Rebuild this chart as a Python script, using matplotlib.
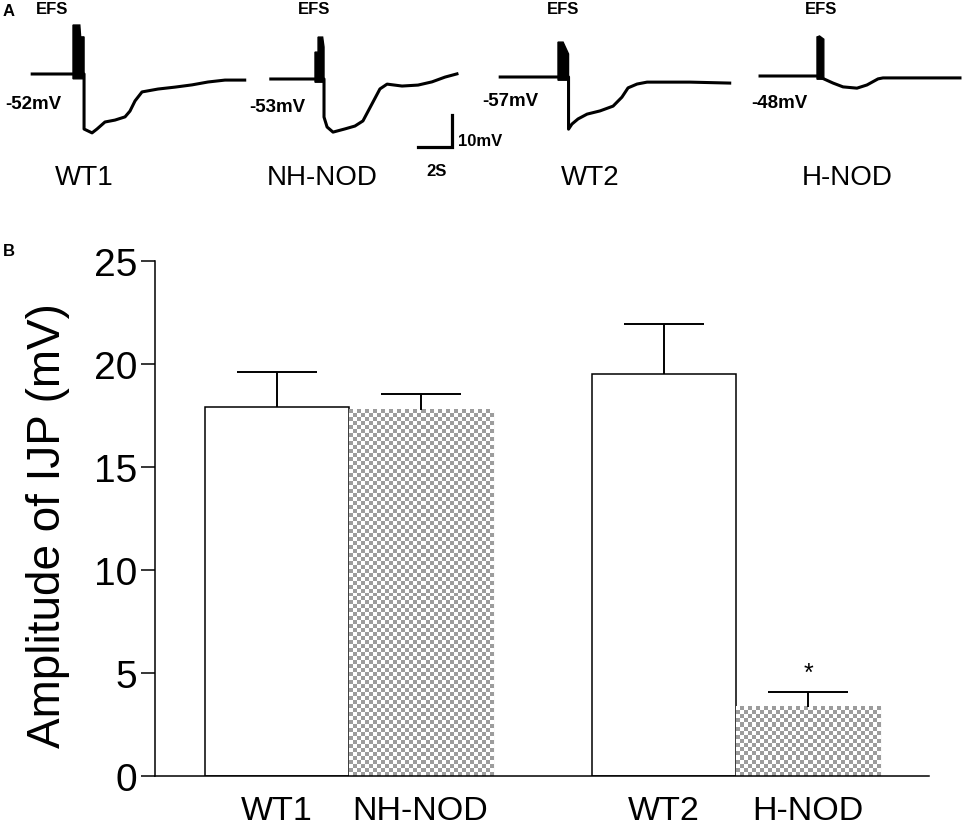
import numpy as np
import matplotlib.pyplot as plt
from matplotlib.colors import ListedColormap

plt.rcParams['font.family'] = ['Liberation Sans', 'DejaVu Sans']

# panel B data
groups = ['WT1', 'NH-NOD', 'WT2', 'H-NOD']
amplitude = [17.9, 17.77, 19.5, 3.35]
sem = [1.7, 0.77, 2.44, 0.73]
checkered = [False, True, False, True]

# panel A traces: time (s) from EFS onset, voltage (mV) from resting potential
wt1_t = [-2.4, 0.0, 0.65, 0.65, 1.12, 1.41, 1.88, 2.47, 3.06, 3.35, 3.65, 4.06, 5.0, 6.0, 7.0, 7.94, 8.94, 10.1]
wt1_v = [0, 0, 0, -17.2, -18.4, -17.2, -15.0, -14.4, -13.4, -11.6, -8.4, -5.6, -4.7, -4.1, -3.4, -2.5, -1.9, -1.9]
nh_t = [-2.6, 0.0, 0.53, 0.53, 0.71, 1.06, 1.76, 2.35, 2.82, 3.35, 3.82, 4.24, 5.12, 6.06, 6.88, 7.65, 8.35]
nh_v = [0, 0, 0, -11.9, -15.0, -16.6, -15.6, -14.7, -13.1, -7.8, -3.1, -1.6, -2.2, -1.9, -0.9, 0.6, 1.6]
wt2_t = [-3.4, 0.0, 0.62, 0.62, 0.82, 1.18, 1.71, 2.47, 3.24, 3.76, 4.12, 4.65, 5.24, 7.76, 10.1]
wt2_v = [0, 0, 0, -16.3, -14.7, -13.1, -11.6, -10.6, -9.1, -6.3, -3.4, -2.2, -1.6, -1.6, -1.9]
hnod_t = [-3.35, 0.0, 0.4, 0.94, 1.53, 2.35, 2.94, 3.59, 3.88, 8.41]
hnod_v = [0, 0, -0.9, -2.2, -3.4, -3.8, -2.8, -0.9, -0.6, -0.6]

# EFS stimulus artifacts (outline, s / mV)
wt1_efs_t = [0, 0, 0.4, 0.45, 0.65, 0.65]
wt1_efs_v = [-1.5, 15.3, 15.3, 11.6, 11.6, -1.5]
nh_efs_t = [0, 0, 0.18, 0.18, 0.45, 0.53, 0.53]
nh_efs_v = [-1, 8.4, 8.4, 13.1, 13.1, 10, -1]
wt2_efs_t = [0, 0, 0.3, 0.62, 0.62]
wt2_efs_v = [-1, 10.9, 10.9, 7.2, -1]
hnod_efs_t = [0, 0, 0.15, 0.4, 0.4]
hnod_efs_v = [-1, 12.2, 12.5, 11.5, -1]

resting = ['-52mV', '-53mV', '-57mV', '-48mV']

W, H = 963, 829
fig = plt.figure(figsize=(W / 100, H / 100), dpi=100)


def fx(px):
    return px / W


def fy(py):
    return 1 - py / H


# ---------- panel A ----------
px_s, px_mv, base_py = 17.0, 3.2, 77
ax_a = fig.add_axes([0, fy(200), 1, 200 / H])
ax_a.set_xlim(0, W / px_s)
ax_a.set_ylim(-(200 - base_py) / px_mv, base_py / px_mv)
ax_a.axis('off')

traces = [(wt1_t, wt1_v, wt1_efs_t, wt1_efs_v), (nh_t, nh_v, nh_efs_t, nh_efs_v),
          (wt2_t, wt2_v, wt2_efs_t, wt2_efs_v), (hnod_t, hnod_v, hnod_efs_t, hnod_efs_v)]
onset_px = [73, 315, 558, 817]
base_px = [75, 80, 78, 77]
for (t, v, et, ev), ox, oy in zip(traces, onset_px, base_px):
    t0 = ox / px_s
    v0 = (base_py - oy) / px_mv
    ax_a.plot(np.array(t) + t0, np.array(v) + v0, color='black', lw=2.2,
              solid_joinstyle='round')
    ax_a.fill(np.array(et) + t0, np.array(ev) + v0, color='black', lw=1)

# scale bar 10 mV / 2 s
sx, sy = 452 / px_s, (base_py - 148) / px_mv
ax_a.plot([sx - 2, sx, sx], [sy, sy, sy + 10], color='black', lw=2.3,
          solid_joinstyle='miter')

fig.text(fx(9), fy(12), 'A', fontsize=12, fontweight='bold', ha='center', va='center')
for x in [52, 314, 563, 821]:
    fig.text(fx(x), fy(10), 'EFS', fontsize=12, fontweight='bold', ha='center', va='center')
for lab, (x, y) in zip(resting, [(33, 105), (277, 108), (510, 102), (779, 104)]):
    fig.text(fx(x), fy(y), lab, fontsize=13.5, fontweight='bold', ha='center', va='center')
for lab, x in zip(groups, [84, 322, 590, 847]):
    fig.text(fx(x), fy(178), lab, fontsize=20, ha='center', va='center')
fig.text(fx(458), fy(142), '10mV', fontsize=12, fontweight='bold', ha='left', va='center')
fig.text(fx(437), fy(172), '2S', fontsize=12, fontweight='bold', ha='center', va='center')

# ---------- panel B ----------
xpos = [0, 1, 2.69, 3.69]
xlim = (-0.844, 4.53)
ax = fig.add_axes([fx(155), fy(777), (929 - 155) / W, (777 - 262) / H])

bars = ax.bar(xpos, amplitude, width=1.0, color='white', edgecolor='black', linewidth=1.1, zorder=2)
gray = '#9c9c9c'
cmap = ListedColormap(['white', gray])
px_x = (929 - 155) / (xlim[1] - xlim[0])
px_y = (777 - 262) / 25
for bar, chk in zip(bars, checkered):
    if not chk:
        continue
    bar.set_edgecolor(gray)
    bar.set_linewidth(0.8)
    x0, w, h = bar.get_x(), bar.get_width(), bar.get_height()
    nx = int(round(w * px_x / 4))
    ny = int(round(h * px_y / 4))
    board = np.add.outer(np.arange(ny), np.arange(nx)) % 2
    ax.imshow(board, cmap=cmap, extent=(x0, x0 + w, 0, h), origin='lower',
              interpolation='nearest', aspect='auto', zorder=2.5)

_, caps, _ = ax.errorbar(xpos, amplitude, yerr=[np.zeros(len(sem)), sem], fmt='none',
                         ecolor='black', elinewidth=1.4, capsize=28.5, capthick=1.4, zorder=3)
caps[0].set_visible(False)  # no cap on the zero-length lower side
ax.text(xpos[3], amplitude[3] + sem[3] + 0.95, '*', fontsize=18, ha='center', va='center')

ax.set_xlim(*xlim)
ax.set_ylim(0, 25)
ax.set_yticks([0, 5, 10, 15, 20, 25])
ax.set_xticks(xpos)
ax.set_xticklabels(groups)
ax.tick_params(axis='y', labelsize=28, length=10, width=1.1, pad=3)
ax.tick_params(axis='x', labelsize=24.5, length=0, pad=14)
for s in ['top', 'right']:
    ax.spines[s].set_visible(False)
for s in ['left', 'bottom']:
    ax.spines[s].set_linewidth(1.1)

fig.text(fx(48), fy(526), 'Amplitude of IJP (mV)', fontsize=33, rotation=90,
         ha='center', va='center')
fig.text(fx(9), fy(252), 'B', fontsize=12, fontweight='bold', ha='center', va='center')

fig.savefig('out.png', dpi=100)
